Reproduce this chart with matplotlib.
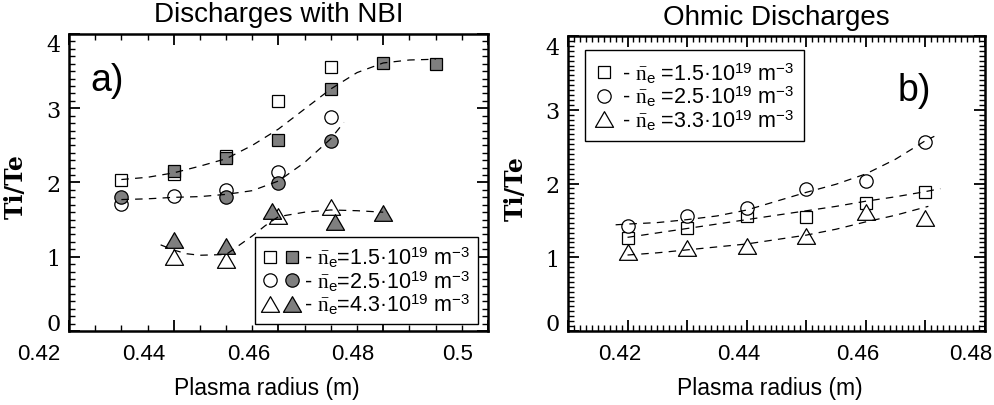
import matplotlib
matplotlib.use('Agg')
import matplotlib.pyplot as plt
import matplotlib.transforms as mtransforms
from matplotlib.path import Path
from matplotlib.ticker import MultipleLocator, FixedLocator, FixedFormatter
from matplotlib.legend_handler import HandlerTuple

plt.rcParams['font.family'] = ['Liberation Sans', 'DejaVu Sans']
plt.rcParams['mathtext.fontset'] = 'custom'
plt.rcParams['mathtext.rm'] = 'Liberation Serif'
plt.rcParams['mathtext.sf'] = 'Liberation Sans'
plt.rcParams['mathtext.it'] = 'Liberation Serif:italic'

# ---- panel a) discharges with NBI ----
nbi_sq_open_x = [0.43, 0.44, 0.45, 0.46, 0.47]
nbi_sq_open_y = [2.04, 2.11, 2.36, 3.10, 3.55]
nbi_sq_fill_x = [0.44, 0.45, 0.46, 0.47, 0.48, 0.49]
nbi_sq_fill_y = [2.16, 2.33, 2.57, 3.26, 3.61, 3.60]
nbi_ci_open_x = [0.43, 0.44, 0.45, 0.46, 0.47]
nbi_ci_open_y = [1.71, 1.82, 1.90, 2.14, 2.88]
nbi_ci_fill_x = [0.43, 0.45, 0.46, 0.47]
nbi_ci_fill_y = [1.80, 1.80, 1.99, 2.56]
nbi_tr_open_x = [0.44, 0.45, 0.46, 0.47]
nbi_tr_open_y = [0.99, 0.96, 1.55, 1.67]
nbi_tr_fill_x = [0.44, 0.45, 0.4588, 0.4708, 0.48]
nbi_tr_fill_y = [1.22, 1.14, 1.61, 1.47, 1.59]

# dashed guide curves
nbi_fit_sq_x = [0.430, 0.435, 0.440, 0.445, 0.450, 0.455, 0.460, 0.465, 0.470, 0.475, 0.480, 0.485, 0.490]
nbi_fit_sq_y = [2.04, 2.07, 2.13, 2.22, 2.32, 2.50, 2.72, 2.99, 3.26, 3.48, 3.61, 3.65, 3.66]
nbi_fit_ci_x = [0.430, 0.435, 0.440, 0.445, 0.450, 0.455, 0.460, 0.465, 0.470, 0.4725]
nbi_fit_ci_y = [1.77, 1.78, 1.80, 1.81, 1.84, 1.89, 2.02, 2.27, 2.59, 2.81]
nbi_fit_tr_x = [0.4375, 0.440, 0.4425, 0.445, 0.450, 0.455, 0.4575, 0.460, 0.465, 0.470, 0.475, 0.480]
nbi_fit_tr_y = [1.16, 1.09, 1.04, 1.02, 1.03, 1.28, 1.42, 1.54, 1.60, 1.63, 1.62, 1.60]

nbi_labels = ['1.5', '2.5', '4.3']

# ---- panel b) ohmic discharges ----
ohm_x = [0.42, 0.43, 0.44, 0.45, 0.46, 0.47]
ohm_sq = [1.26, 1.39, 1.56, 1.55, 1.74, 1.89]
ohm_ci = [1.43, 1.56, 1.67, 1.93, 2.03, 2.56]
ohm_tr = [1.07, 1.13, 1.15, 1.29, 1.61, 1.53]

ohm_fit_sq_x = [0.420, 0.425, 0.430, 0.435, 0.440, 0.445, 0.450, 0.455, 0.460, 0.465, 0.470, 0.4725]
ohm_fit_sq_y = [1.27, 1.33, 1.39, 1.45, 1.51, 1.57, 1.63, 1.69, 1.76, 1.82, 1.89, 1.93]
ohm_fit_ci_x = [0.418, 0.420, 0.425, 0.430, 0.435, 0.440, 0.445, 0.450, 0.455, 0.460, 0.465, 0.470, 0.4715]
ohm_fit_ci_y = [1.44, 1.45, 1.47, 1.51, 1.56, 1.64, 1.76, 1.88, 1.99, 2.13, 2.33, 2.58, 2.64]
ohm_fit_tr_x = [0.420, 0.425, 0.430, 0.435, 0.440, 0.445, 0.450, 0.455, 0.460, 0.465, 0.470, 0.4705]
ohm_fit_tr_y = [1.03, 1.06, 1.10, 1.14, 1.18, 1.24, 1.30, 1.38, 1.48, 1.57, 1.68, 1.69]

ohm_labels = ['1.5', '2.5', '3.3']

GRAY = '#7f7f7f'
tri = Path([(-1, -0.866), (1, -0.866), (0, 0.866), (0, 0)],
           [Path.MOVETO, Path.LINETO, Path.LINETO, Path.CLOSEPOLY])
MS = {'s': 9.0, 'o': 9.6, 'tri': 13.0}


def mark(ax, x, y, kind, filled, z):
    m = tri if kind == 'tri' else kind
    return ax.plot(x, y, linestyle='none', marker=m, markersize=MS[kind],
                   markerfacecolor=GRAY if filled else 'white',
                   markeredgecolor='black', markeredgewidth=0.9, zorder=z)[0]


def dashed(ax, x, y):
    ax.plot(x, y, color='black', linewidth=0.9, dashes=(6, 5), zorder=5)


def density_label(val, sep):
    return (r'- $\bar{\mathrm{n}}_{\mathsf{e}}$' + sep + '=' + val +
            r'·10$^{\mathsf{19}}$ m$^{\mathsf{-3}}$')


fig = plt.figure(figsize=(9.94, 4.06), dpi=100)
ax1 = fig.add_axes([0.0694, 0.1823, 0.4215, 0.7315])
ax2 = fig.add_axes([0.5714, 0.1823, 0.4195, 0.7265])


def shift(label, dx, dy):
    label.set_transform(label.get_transform() +
                        mtransforms.ScaledTranslation(dx / 100, dy / 100, fig.dpi_scale_trans))


# panel a
so = mark(ax1, nbi_sq_open_x, nbi_sq_open_y, 's', False, 2)
sf = mark(ax1, nbi_sq_fill_x, nbi_sq_fill_y, 's', True, 3)
co = mark(ax1, nbi_ci_open_x, nbi_ci_open_y, 'o', False, 2)
cf = mark(ax1, nbi_ci_fill_x, nbi_ci_fill_y, 'o', True, 3)
to = mark(ax1, nbi_tr_open_x, nbi_tr_open_y, 'tri', False, 2)
tf = mark(ax1, nbi_tr_fill_x, nbi_tr_fill_y, 'tri', True, 3)
dashed(ax1, nbi_fit_sq_x, nbi_fit_sq_y)
dashed(ax1, nbi_fit_ci_x, nbi_fit_ci_y)
dashed(ax1, nbi_fit_tr_x, nbi_fit_tr_y)

ax1.set_xlim(0.42, 0.50)
ax1.xaxis.set_major_locator(FixedLocator([0.42, 0.44, 0.46, 0.48, 0.50]))
ax1.xaxis.set_major_formatter(FixedFormatter(['0.42', '0.44', '0.46', '0.48', '0.5']))
ax1.xaxis.set_minor_locator(MultipleLocator(0.005))
ax1.yaxis.set_minor_locator(MultipleLocator(0.1))

leg1 = ax1.legend([(so, sf), (co, cf), (to, tf)],
                  [density_label(v, '') for v in nbi_labels],
                  handler_map={tuple: HandlerTuple(ndivide=None, pad=0.25)},
                  loc='lower right', bbox_to_anchor=(0.976, 0.024), borderaxespad=0,
                  fontsize=15.5, handlelength=1.75, handletextpad=0.2, labelspacing=-0.05,
                  borderpad=0.35, fancybox=False, framealpha=1, edgecolor='black')
leg1.get_frame().set_linewidth(1.0)
ax1.text(0.05, 0.845, 'a)', transform=ax1.transAxes, fontsize=27, va='center', ha='left')
ax1.set_title('Discharges with NBI', fontsize=20, pad=9)

# panel b
s2 = mark(ax2, ohm_x, ohm_sq, 's', False, 2)
c2 = mark(ax2, ohm_x, ohm_ci, 'o', False, 2)
t2 = mark(ax2, ohm_x, ohm_tr, 'tri', False, 2)
dashed(ax2, ohm_fit_sq_x, ohm_fit_sq_y)
dashed(ax2, ohm_fit_ci_x, ohm_fit_ci_y)
dashed(ax2, ohm_fit_tr_x, ohm_fit_tr_y)

ax2.set_xlim(0.41, 0.48)
ax2.xaxis.set_major_locator(FixedLocator([0.41, 0.42, 0.43, 0.44, 0.45, 0.46, 0.47, 0.48]))
ax2.xaxis.set_major_formatter(FixedFormatter(['', '0.42', '', '0.44', '', '0.46', '', '0.48']))
ax2.xaxis.set_minor_locator(MultipleLocator(0.001))
ax2.yaxis.set_minor_locator(MultipleLocator(1 / 15))

leg2 = ax2.legend([s2, c2, t2], [density_label(v, ' ') for v in ohm_labels],
                  loc='upper left', bbox_to_anchor=(0.041, 0.951), borderaxespad=0,
                  fontsize=15.5, handlelength=0.9, handletextpad=0.35, labelspacing=-0.05,
                  borderpad=0.45, fancybox=False, framealpha=1, edgecolor='black')
leg2.get_frame().set_linewidth(1.0)
ax2.text(0.79, 0.817, 'b)', transform=ax2.transAxes, fontsize=27, va='center', ha='left')
ax2.set_title('Ohmic Discharges', fontsize=20, pad=9)

for ax, dx in [(ax1, -30), (ax2, -8)]:
    ax.set_ylim(0, 4)
    ax.yaxis.set_major_locator(FixedLocator([0, 1, 2, 3, 4]))
    for sp in ax.spines.values():
        sp.set_linewidth(1.8)
    ax.tick_params(which='both', direction='in', top=True, right=True)
    ax.tick_params(which='major', length=8, width=1.3)
    ax.tick_params(which='minor', length=4, width=1.0)
    ax.tick_params(axis='x', labelsize=16, pad=8.5)
    ax.tick_params(axis='y', labelsize=16, pad=6)
    for lab in ax.get_yticklabels():
        lab.set_family('DejaVu Serif')
    ax.set_xlabel('Plasma radius (m)', fontsize=16.5)
    ax.set_ylabel('Ti/Te', fontsize=17, family='DejaVu Serif', fontweight='bold')
    xlabs = ax.get_xticklabels()
    for lab in xlabs:
        shift(lab, dx, 0)
    ylabs = ax.get_yticklabels()
    shift(ylabs[0], 0, 9)
    shift(ylabs[-1], 0, -9)

# last label of panel b sits a bit further left, as in the original
shift(ax2.get_xticklabels()[-1], -6, 0)

ax1.xaxis.set_label_coords(0.4726, -0.152)
ax2.xaxis.set_label_coords(0.4844, -0.153)
ax1.yaxis.set_label_coords(-0.098, 0.488)
ax2.yaxis.set_label_coords(-0.096, 0.487)

fig.savefig('out.png', dpi=100)
